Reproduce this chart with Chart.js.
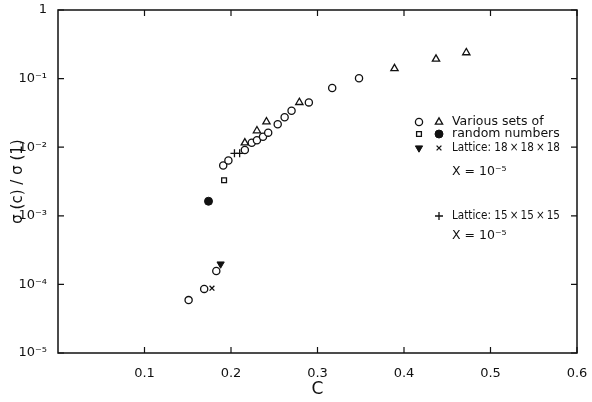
<!DOCTYPE html>
<html><head><meta charset="utf-8">
<script src="https://cdn.jsdelivr.net/npm/chart.js@4/dist/chart.umd.min.js"></script>
<style>html,body{margin:0;padding:0;background:#fff}#wrap{width:592px;height:402px}</style>
</head><body><div id="wrap"><canvas id="c" width="592" height="402"></canvas></div>
<script>
// ---- data ----
const variousCircleC = [0.151,0.169,0.183,0.191,0.197,0.216,0.224,0.230,0.237,0.243,0.254,0.262,0.270,0.290,0.317,0.348];
const variousCircleS = [5.9e-5,8.6e-5,1.57e-4,5.4e-3,6.4e-3,9.1e-3,1.16e-2,1.26e-2,1.42e-2,1.63e-2,2.16e-2,2.73e-2,3.4e-2,4.5e-2,7.3e-2,0.101];
const variousTriC = [0.216,0.230,0.241,0.279,0.389,0.437,0.472];
const variousTriS = [1.16e-2,1.74e-2,2.35e-2,4.5e-2,0.140,0.193,0.239];
const randSquareC = [0.192];
const randSquareS = [3.3e-3];
const randDotC = [0.174];
const randDotS = [1.63e-3];
const lat18TriC = [0.188];
const lat18TriS = [1.98e-4];
const lat18CrossC = [0.178];
const lat18CrossS = [8.8e-5];
const lat15PlusC = [0.204,0.210];
const lat15PlusS = [8.15e-3,8.15e-3];
const xTickValues = [0.1,0.2,0.3,0.4,0.5,0.6];
const yTickValues = [1e-5,1e-4,1e-3,1e-2,1e-1,1];
const yTickLabels = ['10\u207B\u2075','10\u207B\u2074','10\u207B\u00B3','10\u207B\u00B2','10\u207B\u00B9','1'];
const xTitle = 'C';
const yTitle = '\u03C3 (c) / \u03C3 (1)';
const legendLines = ['Various sets of','random numbers','Lattice: 18\u2009\u00D7\u200918\u2009\u00D7\u200918','X = 10\u207B\u2075','Lattice: 15\u2009\u00D7\u200915\u2009\u00D7\u200915','X = 10\u207B\u2075'];

const INK = '#111';
const FONT = 'DejaVu Sans';
const pts = (xs, ys) => xs.map((x, i) => ({x, y: ys[i]}));

const styles = {
  openCircle: {pointStyle:'circle', pointRadius:3.6, pointBorderWidth:1.3, pointBackgroundColor:'#fff', pointBorderColor:INK},
  openTri: {pointStyle:'triangle', pointRadius:4.2, pointBorderWidth:1.3, pointBackgroundColor:'#fff', pointBorderColor:INK},
  openSq: {pointStyle:'rect', pointRadius:3.4, pointBorderWidth:1.3, pointBackgroundColor:'#fff', pointBorderColor:INK},
  dot: {pointStyle:'circle', pointRadius:4, pointBorderWidth:1, pointBackgroundColor:INK, pointBorderColor:INK},
  downTri: {pointStyle:'triangle', pointRadius:4.2, pointRotation:180, pointBorderWidth:1, pointBackgroundColor:INK, pointBorderColor:INK},
  cross: {pointStyle:'crossRot', pointRadius:3.4, pointBorderWidth:1.3, pointBackgroundColor:INK, pointBorderColor:INK},
  plus: {pointStyle:'cross', pointRadius:4, pointBorderWidth:1.3, pointBackgroundColor:INK, pointBorderColor:INK}
};
const ds = (label, data, st) => Object.assign({label, data, showLine:false}, st);

const frame = {
  id: 'frame',
  afterDraw(chart) {
    const {ctx, chartArea: a, scales: {x, y}} = chart;
    ctx.save();
    ctx.strokeStyle = INK; ctx.lineWidth = 1.5;
    ctx.strokeRect(a.left, a.top, a.right - a.left, a.bottom - a.top);
    ctx.lineWidth = 1.2;
    ctx.beginPath();
    xTickValues.forEach(v => {
      const px = x.getPixelForValue(v);
      ctx.moveTo(px, a.bottom); ctx.lineTo(px, a.bottom - 6);
      ctx.moveTo(px, a.top); ctx.lineTo(px, a.top + 6);
    });
    yTickValues.forEach(v => {
      const py = y.getPixelForValue(v);
      ctx.moveTo(a.left, py); ctx.lineTo(a.left + 6, py);
      ctx.moveTo(a.right, py); ctx.lineTo(a.right - 6, py);
    });
    ctx.stroke();
    ctx.restore();
  }
};

const legend = {
  id: 'customLegend',
  afterDraw(chart) {
    const {ctx} = chart;
    const draw = (st, x, y) => {
      ctx.fillStyle = st.pointBackgroundColor; ctx.strokeStyle = st.pointBorderColor; ctx.lineWidth = st.pointBorderWidth;
      Chart.helpers.drawPoint(ctx, {pointStyle: st.pointStyle, radius: st.pointRadius, rotation: st.pointRotation || 0, borderWidth: st.pointBorderWidth}, x, y);
    };
    const mx1 = 419, mx2 = 439, tx = 452;
    const rows = [122, 134, 148, 172, 216, 236];
    draw(styles.openCircle, mx1, rows[0]); draw(styles.openTri, mx2, rows[0]);
    draw(styles.openSq, mx1, rows[1]); draw(styles.dot, mx2, rows[1]);
    draw(styles.downTri, mx1, rows[2]); draw(styles.cross, mx2, rows[2]);
    draw(styles.plus, mx2, rows[4]);
    ctx.save();
    ctx.fillStyle = INK; ctx.font = '12.5px "' + FONT + '"'; ctx.textBaseline = 'middle'; ctx.textAlign = 'left';
    legendLines.forEach((t, i) => ctx.fillText(t, tx, rows[i], 108));
    ctx.restore();
  }
};

new Chart(document.getElementById('c'), {
  type: 'scatter',
  data: {datasets: [
    ds('circles', pts(variousCircleC, variousCircleS), styles.openCircle),
    ds('triangles', pts(variousTriC, variousTriS), styles.openTri),
    ds('square', pts(randSquareC, randSquareS), styles.openSq),
    ds('dot', pts(randDotC, randDotS), styles.dot),
    ds('lat18tri', pts(lat18TriC, lat18TriS), styles.downTri),
    ds('lat18x', pts(lat18CrossC, lat18CrossS), styles.cross),
    ds('lat15', pts(lat15PlusC, lat15PlusS), styles.plus)
  ]},
  options: {
    responsive: false, animation: false, devicePixelRatio: 1,
    layout: {padding: {top: 10, right: 15, left: 0, bottom: 0}},
    plugins: {legend: {display: false}, tooltip: {enabled: false}},
    scales: {
      x: {
        type: 'linear', min: 0, max: 0.6, position: 'bottom',
        afterBuildTicks: s => { s.ticks = xTickValues.map(v => ({value: v})); },
        afterFit: s => { s.height = 49; s.paddingLeft = 0; s.paddingRight = 0; },
        grid: {display: false}, border: {display: false},
        ticks: {color: INK, font: {family: FONT, size: 13}, padding: 5, maxRotation: 0, callback: v => v.toFixed(1)},
        title: {display: true, text: xTitle, color: INK, font: {family: FONT, size: 17}, padding: {top: 0, bottom: 2}}
      },
      y: {
        type: 'logarithmic', min: 1e-5, max: 1,
        afterBuildTicks: s => { s.ticks = yTickValues.map(v => ({value: v})); },
        afterFit: s => { s.width = 58; s.paddingTop = 0; s.paddingBottom = 0; },
        grid: {display: false}, border: {display: false},
        ticks: {color: INK, font: {family: FONT, size: 13}, padding: 3, callback: v => yTickLabels[yTickValues.findIndex(t => Math.abs(Math.log10(t) - Math.log10(v)) < 1e-6)]},
        title: {display: true, text: yTitle, color: INK, font: {family: FONT, size: 15}, padding: {top: 9, bottom: 0}}
      }
    }
  },
  plugins: [frame, legend]
});
</script></body></html>
